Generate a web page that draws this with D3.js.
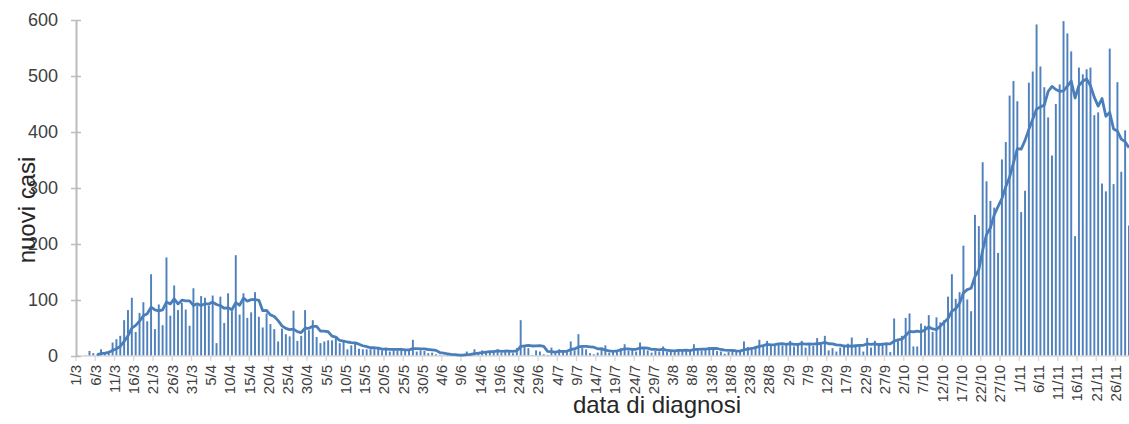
<!DOCTYPE html>
<html><head><meta charset="utf-8">
<script src="https://cdn.jsdelivr.net/npm/d3@7"></script>
<style>html,body{margin:0;padding:0;background:#fff;} svg{display:block;}</style>
</head><body><svg id="chart" width="1129" height="424"></svg>
<script>
// categories: one per day, 1/3 .. 29/11
const startDate = new Date(2020, 2, 1);
const endDate = new Date(2020, 10, 30); // exclusive
const fmt = d3.timeFormat("%-d/%-m");
const categories = d3.timeDay.range(startDate, endDate).map(fmt);

// daily new cases (bars)
const dailyCases = [
0,0,1,9,5,3,12,7,9,24,
30,36,64,82,104,43,77,96,62,146,
48,92,55,176,72,126,82,95,83,54,
121,90,107,104,90,108,23,106,59,112,
80,180,74,112,68,78,114,70,51,76,
57,48,26,49,39,35,81,27,36,82,
46,64,34,23,26,28,28,32,23,26,
12,19,23,13,12,12,12,12,14,10,
15,8,13,10,12,9,11,29,8,10,
9,5,6,3,2,1,2,1,2,1,
3,8,4,12,5,10,7,9,8,12,
6,10,8,5,14,64,18,14,2,10,
8,3,2,15,8,12,10,8,26,10,
39,15,12,5,3,6,12,19,6,8,
10,14,21,10,13,8,24,12,10,6,
9,8,17,7,10,8,12,9,11,10,
21,12,10,12,16,14,9,8,4,7,
12,10,11,26,16,12,18,29,18,27,
20,18,22,19,21,27,17,22,27,15,
22,18,32,20,36,10,14,8,15,20,
22,33,16,20,8,32,15,27,23,23,
24,7,67,30,36,68,76,17,17,58,
54,73,43,69,60,64,106,146,102,114,
197,101,80,252,232,346,312,277,265,184,
351,382,465,491,455,257,295,488,508,592,
517,480,426,358,450,485,598,576,544,214,
515,503,512,515,430,435,308,294,549,307,
489,329,403,233
];

// moving average line
const movingAvg = [
null,null,null,null,null,2.6,4.3,5.3,6.6,9.9,
12.9,17.3,26,36,49.9,54.7,62.3,71.7,75.4,87.1,
82.3,80.6,82.3,96.4,93,102.1,93,99.7,98.4,98.3,
90.4,93,90.3,93.4,92.7,96.3,91.9,89.7,85.3,86,
82.6,95.4,90.6,103.3,97.9,100.6,100.9,99.4,81,81.3,
73.4,70.6,63.1,53.9,49.4,47.1,47.9,43.6,41.9,49.9,
49.4,53,52.9,44.6,44.4,43.3,35.6,33.6,27.7,26.6,
25,24,23.3,21.1,18.3,16.7,14.7,14.7,14,12.1,
12.4,11.9,12,11.7,11.7,11,11.1,13.1,13.1,12.7,
12.6,11.6,11.1,10,6.1,5.1,4,2.9,2.4,1.7,
1.7,2.6,3,4.4,5,6.1,7,7.9,7.9,9,
8.1,8.9,8.6,8.3,9,17,17.9,19,17.9,18.1,
18.6,17,8.1,7.7,6.9,8.3,8.3,8.3,11.6,12.7,
16.1,17.1,17.1,16.4,15.7,12.9,13.1,10.3,9,8.4,
9.1,10.7,12.9,12.6,11.7,12,14.3,14.6,14,11.9,
11.7,11,12.3,9.9,9.6,9.3,10.1,10.1,10.6,9.6,
11.6,11.9,12.1,12.1,13.1,13.6,13.4,11.6,10.4,10,
10,9.1,8.7,11.1,12.3,13.4,15,17.4,18.6,20.9,
20,20.3,21.7,21.9,20.7,22,20.6,20.9,22.1,21.1,
21.6,21.1,21.9,22.3,24.3,21.9,21.7,19.7,19.3,17.6,
17.9,17.4,18.3,19.1,19.1,21.6,20.9,21.6,20.1,21.1,
21.7,21.6,26.6,28.7,30,36.4,44,43,44.4,43.1,
46.6,51.9,48.3,47.3,53.4,60.1,67,80.1,84.3,94.4,
112.7,118.6,120.9,141.7,154,188.9,217.1,228.6,252,266.9,
281,302.4,319.4,345,370.4,369.3,385.1,404.7,422.7,440.9,
444.6,448.1,472.3,481.3,475.9,472.6,473.4,481.9,491,460.7,
483.1,490.7,494.6,482.7,461.9,446.3,459.7,428.1,434.7,405.4,
401.7,387.3,382.7,372
];

const tickLabels = ["1/3","6/3","11/3","16/3","21/3","26/3","31/3","5/4","10/4","15/4","20/4","25/4","30/4",
"5/5","10/5","15/5","20/5","25/5","30/5","4/6","9/6","14/6","19/6","24/6","29/6","4/7","9/7","14/7","19/7",
"24/7","29/7","3/8","8/8","13/8","18/8","23/8","28/8","2/9","7/9","12/9","17/9","22/9","27/9","2/10","7/10",
"12/10","17/10","22/10","27/10","1/11","6/11","11/11","16/11","21/11","26/11"];
const yTicks = [0,100,200,300,400,500,600];

const blue = "#4f81bd";
const svg = d3.select("#chart");
const plotLeft = 76, dayStep = 3.85, plotTop = 20, plotBottom = 356;

const x = d3.scaleBand().domain(categories)
  .range([plotLeft, plotLeft + categories.length * dayStep])
  .paddingInner(0.5).paddingOuter(0.25);
const y = d3.scaleLinear().domain([0, 600]).range([plotBottom, plotTop]);

// bars
svg.append("g").selectAll("rect").data(dailyCases).join("rect")
  .attr("x", (d, i) => x(categories[i]))
  .attr("width", x.bandwidth())
  .attr("y", d => y(d))
  .attr("height", d => y(0) - y(d))
  .attr("fill", blue);

// x axis
const xAxis = svg.append("g")
  .attr("transform", `translate(${-x.step() / 2},${plotBottom})`)
  .call(d3.axisBottom(x).tickValues(tickLabels).tickSize(5).tickSizeOuter(0));
xAxis.select(".domain").attr("stroke", "#d9d9d9").attr("stroke-width", 1.5)
  .attr("d", `M${plotLeft + x.step() / 2},0H${1129 + x.step()}`);
xAxis.selectAll(".tick line").attr("stroke", "#d9d9d9").attr("stroke-width", 1.3);
xAxis.selectAll(".tick text")
  .attr("x", 0).attr("y", 0).attr("dy", "0.35em")
  .attr("transform", "translate(0,9) rotate(-90)")
  .attr("text-anchor", "end")
  .attr("fill", "#404040")
  .style("font-family", "'Liberation Sans', Arial, sans-serif")
  .style("font-size", "15px");

// y axis
const yAxis = svg.append("g")
  .attr("transform", `translate(${plotLeft},0)`)
  .call(d3.axisLeft(y).tickValues(yTicks).tickSize(5).tickSizeOuter(0).tickPadding(13));
yAxis.select(".domain").attr("stroke", "#bcbcbc").attr("stroke-width", 2);
yAxis.selectAll(".tick line").attr("stroke", "#bcbcbc").attr("stroke-width", 1.5).attr("x1", 5);
yAxis.selectAll(".tick text")
  .attr("fill", "#404040")
  .style("font-family", "'Liberation Sans', Arial, sans-serif")
  .style("font-size", "18px");

// moving average line
const line = d3.line()
  .defined(d => d != null)
  .x((d, i) => x(categories[i]) + x.bandwidth() / 2)
  .y(d => y(d));
svg.append("path")
  .attr("d", line(movingAvg))
  .attr("fill", "none")
  .attr("stroke", "#4a7ebb")
  .attr("stroke-width", 2.8)
  .attr("stroke-linejoin", "round");

// axis titles
svg.append("text")
  .attr("transform", "translate(35,210) rotate(-90)")
  .attr("text-anchor", "middle")
  .attr("fill", "#262626")
  .style("font-family", "'Liberation Sans', Arial, sans-serif")
  .style("font-size", "24px")
  .text("nuovi casi");
svg.append("text")
  .attr("x", 657).attr("y", 413)
  .attr("text-anchor", "middle")
  .attr("fill", "#262626")
  .style("font-family", "'Liberation Sans', Arial, sans-serif")
  .style("font-size", "24px")
  .text("data di diagnosi");
</script>
</body></html>
